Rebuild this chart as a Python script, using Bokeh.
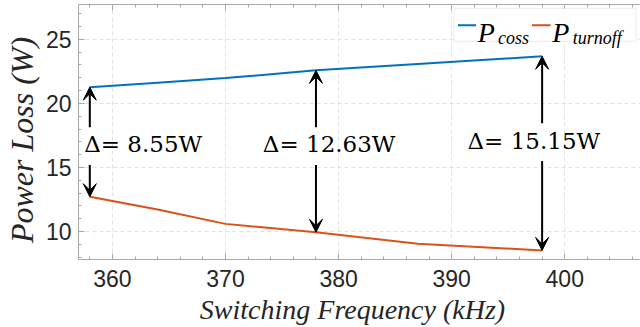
from bokeh.plotting import figure
from bokeh.models import (Range1d, LinearAxis, Arrow, VeeHead, Label, BoxAnnotation,
                          ColumnDataSource, SingleIntervalTicker, LabelSet, CustomJSTickFormatter)
from bokeh.core.properties import value
from bokeh.embed import file_html
from bokeh.resources import INLINE

# ---- data ----
freq = [358, 364, 370, 378, 387, 398]
p_coss = [21.27, 21.62, 21.98, 22.58, 23.08, 23.68]
p_turnoff = [12.72, 11.72, 10.60, 9.95, 9.04, 8.53]

delta_x = [358, 378, 398]
delta_top = [21.27, 22.58, 23.68]
delta_bottom = [12.72, 9.95, 8.53]
delta_text = ["Δ=  8.55W", "Δ=  12.63W", "Δ=  15.15W"]
delta_text_x = [357.5, 373.3, 391.4]
delta_text_y = [16.8, 16.8, 17.1]

x_ticks = [360, 370, 380, 390, 400]
y_ticks = [10, 15, 20, 25]

BLUE = "#0072BD"
ORANGE = "#D95319"
AXIS = "#a8a8a8"
TXT = "#262626"

p = figure(width=640, height=327, output_backend="svg", toolbar_location=None,
           x_range=Range1d(357.0, 406.7), y_range=Range1d(7.82, 27.72),
           min_border_left=77, min_border_right=0, min_border_top=4, min_border_bottom=67,
           background_fill_color="white", border_fill_color="white")
p.outline_line_color = None

p.line(freq, p_coss, line_color=BLUE, line_width=2)
p.line(freq, p_turnoff, line_color=ORANGE, line_width=2)

# axes styling
for ax in (p.xaxis[0], p.yaxis[0]):
    ax.axis_line_color = AXIS
    ax.major_tick_line_color = AXIS
    ax.minor_tick_line_color = AXIS
    ax.major_tick_in = 6
    ax.major_tick_out = 0
    ax.minor_tick_in = 3
    ax.minor_tick_out = 0
    ax.major_label_text_font = "Liberation Sans"
    ax.major_label_text_font_size = "23px"
    ax.major_label_text_color = TXT
    ax.axis_label_text_font = "Liberation Serif"
    ax.axis_label_text_font_style = "italic"
    ax.axis_label_text_color = TXT

p.xaxis[0].ticker = SingleIntervalTicker(interval=10, num_minor_ticks=5)
p.yaxis[0].ticker = SingleIntervalTicker(interval=5, num_minor_ticks=5)
p.xaxis[0].axis_label = "Switching  Frequency  (kHz)"
p.yaxis[0].axis_label = "Power  Loss  (W)"
p.xaxis[0].axis_label_text_font_size = "28px"
p.yaxis[0].axis_label_text_font_size = "32px"
p.xaxis[0].major_label_standoff = 10
p.yaxis[0].major_label_standoff = 7
p.xaxis[0].axis_label_standoff = 4
p.yaxis[0].axis_label_standoff = 3

top_ax = LinearAxis(ticker=SingleIntervalTicker(interval=10, num_minor_ticks=5),
                    formatter=CustomJSTickFormatter(code="return ''"))
top_ax.axis_line_color = AXIS
top_ax.major_tick_line_color = AXIS
top_ax.minor_tick_line_color = AXIS
top_ax.major_tick_in = 6
top_ax.major_tick_out = 0
top_ax.minor_tick_in = 3
top_ax.minor_tick_out = 0
top_ax.major_label_standoff = 0
p.add_layout(top_ax, "above")

p.xgrid.ticker = SingleIntervalTicker(interval=10)
p.ygrid.ticker = SingleIntervalTicker(interval=5)
for g in (p.xgrid[0], p.ygrid[0]):
    g.grid_line_color = "#e2e2e2"
    g.grid_line_dash = "4 3"
    g.grid_line_width = 1

# delta arrows and labels
for xv, yt, yb, ty in zip(delta_x, delta_top, delta_bottom, delta_text_y):
    p.add_layout(Arrow(end=VeeHead(size=13, fill_color="black", line_color="black"),
                       x_start=xv, y_start=ty + 1.35, x_end=xv, y_end=yt,
                       line_color="black", line_width=2))
    p.add_layout(Arrow(end=VeeHead(size=13, fill_color="black", line_color="black"),
                       x_start=xv, y_start=ty - 1.6, x_end=xv, y_end=yb,
                       line_color="black", line_width=2))

src = ColumnDataSource(dict(x=delta_text_x, y=delta_text_y, t=delta_text))
p.add_layout(LabelSet(x="x", y="y", text="t", source=src, text_font=value("DejaVu Serif"),
                      text_font_size="23px", text_color="black", text_baseline="middle",
                      text_align="left"))

# legend (manual, to allow subscripts)
p.add_layout(BoxAnnotation(left=390.2, right=406.3, top=27.4, bottom=24.85,
                           fill_color="white", fill_alpha=1.0, line_color="#c0c0c0",
                           line_width=1))
p.add_layout(Arrow(end=None, x_start=390.55, x_end=392.15, y_start=26.1, y_end=26.1,
                   line_color=BLUE, line_width=2))
p.add_layout(Label(x=392.3, y=25.5, text="P", text_font="Liberation Serif",
                   text_font_style="italic", text_font_size="28px", text_color="black",
                   text_baseline="alphabetic"))
p.add_layout(Label(x=394.1, y=25.1, text="coss", text_font="Liberation Serif",
                   text_font_style="italic", text_font_size="18px", text_color="black",
                   text_baseline="alphabetic"))
p.add_layout(Arrow(end=None, x_start=397.1, x_end=398.75, y_start=26.1, y_end=26.1,
                   line_color=ORANGE, line_width=2))
p.add_layout(Label(x=398.9, y=25.5, text="P", text_font="Liberation Serif",
                   text_font_style="italic", text_font_size="28px", text_color="black",
                   text_baseline="alphabetic"))
p.add_layout(Label(x=400.7, y=25.1, text="turnoff", text_font="Liberation Serif",
                   text_font_style="italic", text_font_size="18px", text_color="black",
                   text_baseline="alphabetic"))

open("out.html", "w").write(file_html(p, INLINE))
